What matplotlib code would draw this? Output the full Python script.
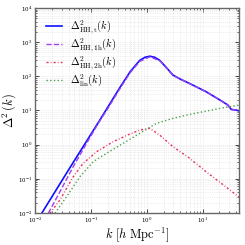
import numpy as np
import matplotlib
matplotlib.use('Agg')
import matplotlib.pyplot as plt

plt.rcParams['mathtext.fontset'] = 'cm'
plt.rcParams['font.family'] = 'DejaVu Serif'

# values as log10(k), log10(Delta^2)
lk_tot = [-1.88, -1.40, -0.84, -0.48, -0.30, -0.125, -0.03, 0.054, 0.14, 0.232,
          0.35, 0.47, 0.60, 0.768, 1.066, 1.363, 1.452, 1.512, 1.602, 1.661]
ld_tot = [-2.01, -0.74, 0.72, 1.675, 2.13, 2.47, 2.56, 2.59, 2.56, 2.47,
          2.26, 2.035, 1.92, 1.79, 1.547, 1.254, 1.158, 1.032, 1.012, 0.982]

lk_1h = [-1.762, -1.554, -1.316, -1.077, -0.87, -0.70, -0.48, -0.30, -0.125, 0.054,
         0.232, 0.47, 0.768, 1.066, 1.363, 1.452, 1.512, 1.602, 1.661]
ld_1h = [-2.01, -1.377, -0.646, 0.038, 0.62, 1.05, 1.64, 2.10, 2.44, 2.57,
         2.46, 2.03, 1.785, 1.545, 1.253, 1.157, 1.031, 1.011, 0.981]

lk_2h = [-1.732, -1.554, -1.316, -1.138, -0.898, -0.602, -0.304, -0.125, 0.054,
         0.232, 0.47, 0.768, 1.066, 1.363, 1.661]
ld_2h = [-2.01, -1.62, -0.94, -0.547, -0.208, 0.085, 0.31, 0.427, 0.477,
         0.28, -0.061, -0.40, -0.80, -1.17, -1.55]

lk_lin = [-1.643, -1.434, -1.196, -0.959, -0.72, -0.423, -0.125, 0.173, 0.47,
          0.768, 1.066, 1.363, 1.661]
ld_lin = [-2.01, -1.52, -0.94, -0.50, -0.254, 0.038, 0.33, 0.623, 0.77,
          0.886, 0.982, 1.079, 1.16]

labels = [r'$\Delta^2_{\rm HH,t}(k)$', r'$\Delta^2_{\rm HH,1h}(k)$',
          r'$\Delta^2_{\rm HH,2h}(k)$', r'$\Delta^2_{\rm lin}(k)$']

fig = plt.figure(figsize=(2.45, 2.45), dpi=100)
ax = fig.add_axes([0.143, 0.131, 0.833, 0.836])

p = lambda a: 10 ** np.array(a)
ax.plot(p(lk_tot), p(ld_tot), '-', color='#1010ff', lw=1.2, label=labels[0])
ax.plot(p(lk_1h), p(ld_1h), '--', color='#a040f0', lw=1.0, label=labels[1])
ax.plot(p(lk_2h), p(ld_2h), '-.', color='#e8305a', lw=1.0, dashes=(1.5, 1.5, 0.6, 1.5), label=labels[2])
ax.plot(p(lk_lin), p(ld_lin), ':', color='#50a050', lw=1.0, label=labels[3])

ax.set_xscale('log')
ax.set_yscale('log')
ax.set_xlim(1e-2, 45)
ax.set_ylim(1e-2, 1e4)

ax.grid(True, which='both', color='#dddddd', ls=':', lw=0.5)
ax.tick_params(which='both', direction='in', top=True, right=True, labelsize=4, pad=2)
ax.tick_params(which='major', length=3, width=0.5)
ax.tick_params(which='minor', length=1.5, width=0.4)
for s in ax.spines.values():
    s.set_color('#666666')
    s.set_linewidth(1.0)

ax.set_xlabel(r'$k\ [h\ {\rm Mpc}^{-1}]$', fontsize=9)
ax.set_ylabel(r'$\Delta^2\,(k)$', fontsize=9)
ax.xaxis.set_label_coords(0.5, -0.06)
ax.yaxis.set_label_coords(-0.085, 0.5)

ax.legend(loc='upper left', fontsize=7.5, frameon=False, handlelength=1.5,
          labelspacing=0.08, borderaxespad=0.65)

fig.savefig('out.png', dpi=100)
